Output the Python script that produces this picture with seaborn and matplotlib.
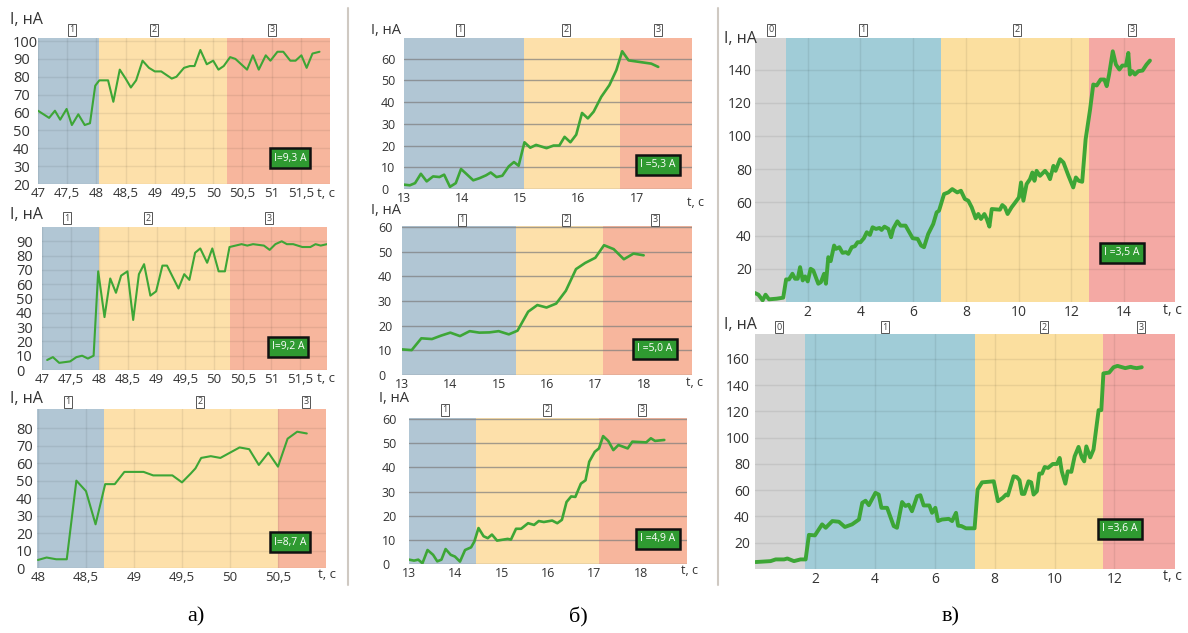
import numpy as np
import pandas as pd
import matplotlib
matplotlib.use("Agg")
import matplotlib.pyplot as plt
import seaborn as sns
from matplotlib.lines import Line2D

# ---- data (t in s, I in nA) ----
t_a1 = [47.0, 47.19, 47.29, 47.38, 47.49, 47.58, 47.69, 47.8, 47.89, 47.98, 48.05, 48.13, 48.2,
        48.29, 48.4, 48.5, 48.59, 48.68, 48.79, 48.9, 49.0, 49.11, 49.29, 49.37, 49.5, 49.6,
        49.68, 49.78, 49.89, 50.0, 50.09, 50.18, 50.29, 50.38, 50.58, 50.68, 50.78, 50.9,
        50.98, 51.1, 51.2, 51.32, 51.41, 51.51, 51.6, 51.7, 51.82]
i_a1 = [61, 57, 61, 56, 62, 53, 59, 53, 54, 75, 78, 78, 78, 66, 84, 79, 74, 78, 89, 85, 83, 83,
        79, 80, 85, 86, 86, 95, 87, 89, 84, 86, 91, 90, 84, 92, 84, 92, 89, 94, 94, 89, 89, 92,
        85, 93, 94]

t_a2 = [47.09, 47.19, 47.3, 47.49, 47.6, 47.7, 47.8, 47.9, 47.98, 48.09, 48.19, 48.29, 48.38,
        48.49, 48.59, 48.69, 48.78, 48.89, 48.99, 49.1, 49.18, 49.38, 49.48, 49.57, 49.67,
        49.76, 49.88, 49.97, 50.08, 50.19, 50.27, 50.48, 50.58, 50.68, 50.87, 50.97, 51.07,
        51.18, 51.27, 51.38, 51.54, 51.68, 51.77, 51.86, 51.97]
i_a2 = [7, 9, 5, 6, 9, 10, 8, 10, 69, 37, 64, 54, 66, 69, 35, 67, 74, 52, 55, 73, 73, 57, 67,
        63, 82, 85, 75, 85, 69, 69, 86, 88, 87, 88, 87, 84, 88, 90, 88, 88, 86, 86, 88, 87, 88]

t_a3 = [48.0, 48.09, 48.19, 48.3, 48.4, 48.5, 48.6, 48.7, 48.8, 48.9, 49.1, 49.2, 49.31, 49.4,
        49.5, 49.59, 49.64, 49.7, 49.8, 49.9, 50.0, 50.1, 50.2, 50.3, 50.4, 50.5, 50.6, 50.7,
        50.8]
i_a3 = [4.6, 6, 5, 5, 50, 44, 25, 48, 48, 55, 55, 53, 53, 53, 49, 54, 57, 63, 64, 63, 66, 69,
        68, 59, 66, 58, 74, 78, 77]

t_b1 = [13.0, 13.1, 13.19, 13.29, 13.39, 13.5, 13.61, 13.69, 13.79, 13.89, 13.98, 14.07, 14.19,
        14.3, 14.41, 14.49, 14.59, 14.69, 14.8, 14.89, 14.97, 15.07, 15.17, 15.27, 15.45,
        15.57, 15.67, 15.76, 15.86, 15.96, 16.06, 16.16, 16.26, 16.39, 16.53, 16.65, 16.75,
        16.86, 17.25, 17.37]
i_b1 = [2, 1.7, 2.7, 7, 3.5, 5.8, 5.5, 6.6, 1, 2.7, 9.2, 7, 4, 5, 6.3, 7.6, 5.5, 6.1, 10.4,
        12.4, 10.7, 21.5, 19, 20.3, 18.8, 20, 20, 24, 21.5, 25, 35, 32.5, 35.6, 42.4, 47.8,
        54.7, 63.4, 59.2, 57.7, 56.2]

t_b2 = [13.0, 13.2, 13.4, 13.62, 13.81, 14.0, 14.2, 14.4, 14.6, 14.81, 15.0, 15.21, 15.39,
        15.61, 15.8, 15.99, 16.19, 16.39, 16.6, 16.79, 17.0, 17.18, 17.38, 17.59, 17.79, 18.0]
i_b2 = [10.4, 10.1, 14.9, 14.6, 16, 17.2, 15.8, 17.8, 17.2, 17.3, 17.8, 16.5, 18, 25.7, 28.4,
        27.4, 29, 34.2, 43, 45.5, 47.6, 52.7, 51.1, 47, 49.3, 48.6]

t_b3 = [13.0, 13.11, 13.2, 13.29, 13.4, 13.52, 13.61, 13.7, 13.79, 13.9, 13.99, 14.1, 14.21,
        14.34, 14.41, 14.5, 14.61, 14.7, 14.79, 14.9, 15.13, 15.2, 15.31, 15.42, 15.57, 15.7,
        15.8, 15.91, 16.09, 16.2, 16.3, 16.4, 16.5, 16.59, 16.71, 16.81, 16.89, 17.01, 17.1,
        17.19, 17.3, 17.41, 17.52, 17.72, 17.82, 18.12, 18.22, 18.31, 18.51]
i_b3 = [1.8, 1.4, 1.8, 0.3, 5.8, 3.8, 1.1, 1.8, 6.2, 3.8, 3.1, 1, 5.8, 6.9, 9.3, 14.9, 11.5,
        10.7, 12.2, 9.7, 10.4, 10.1, 14.6, 14.6, 16.9, 16.2, 17.8, 17.4, 18, 16.9, 18.3, 25.7,
        28, 27.8, 33.3, 34.7, 42.4, 46.5, 47.9, 53, 51, 47.2, 49.3, 47.9, 50.7, 50.4, 52.1,
        51, 51.4]

t_v1 = [0.0, 0.13, 0.29, 0.4, 0.53, 0.82, 1.07, 1.18, 1.29, 1.42, 1.52, 1.62, 1.71, 1.81, 1.9,
        2.0, 2.11, 2.21, 2.4, 2.5, 2.62, 2.69, 2.78, 2.87, 3.0, 3.07, 3.2, 3.32, 3.45, 3.54,
        3.67, 3.79, 3.89, 4.0, 4.13, 4.24, 4.36, 4.46, 4.59, 4.72, 4.8, 4.91, 5.06, 5.16, 5.25,
        5.4, 5.52, 5.71, 5.98, 6.17, 6.3, 6.41, 6.57, 6.76, 6.89, 6.98, 7.17, 7.33, 7.48, 7.67,
        7.81, 7.96, 8.09, 8.22, 8.37, 8.47, 8.57, 8.7, 8.79, 8.89, 8.98, 9.29, 9.38, 9.48,
        9.58, 9.73, 9.92, 10.01, 10.09, 10.18, 10.3, 10.43, 10.52, 10.6, 10.68, 10.81, 11.0,
        11.1, 11.19, 11.32, 11.4, 11.57, 11.7, 11.89, 12.07, 12.17, 12.28, 12.41, 12.54, 12.71,
        12.83, 12.96, 13.11, 13.25, 13.34, 13.43, 13.57, 13.69, 13.82, 13.93, 14.07, 14.16,
        14.22, 14.31, 14.41, 14.54, 14.7, 14.85, 14.98]
i_v1 = [5.4, 4.4, 1, 4.4, 1.6, 2, 2.6, 13.6, 13.6, 17, 14, 14, 21, 13, 15.4, 12.4, 20, 19, 11,
        12, 17, 11, 27, 24.6, 34, 32, 33, 29.6, 30, 29, 33, 33.6, 36, 36, 38.4, 42, 40.4, 45,
        44, 44.6, 43.4, 45.4, 44, 39, 44.4, 48.6, 46, 46, 38.4, 38, 34, 33, 41, 47, 54, 55, 65,
        66, 68, 66, 67, 62, 61, 57, 50.4, 53, 50, 53, 50, 45.4, 56, 55.6, 58.4, 57, 53, 57, 61,
        63, 72, 61, 71, 74, 78, 73, 79, 76, 79, 77, 74, 82, 79, 86, 84, 76, 69, 75, 73, 72.4,
        98, 116, 131, 130.4, 134, 134, 130, 137, 151, 143, 140, 142.4, 142.4, 150, 137, 139,
        137, 139, 139.4, 143, 145.4]

t_v2 = [0.02, 0.52, 0.69, 0.97, 1.08, 1.3, 1.52, 1.69, 1.8, 2.0, 2.24, 2.36, 2.58, 2.8, 3.0,
        3.24, 3.47, 3.58, 3.69, 3.8, 4.02, 4.13, 4.22, 4.41, 4.63, 4.74, 4.91, 5.02, 5.13,
        5.24, 5.41, 5.52, 5.63, 5.82, 5.91, 6.02, 6.11, 6.24, 6.47, 6.58, 6.71, 6.78, 6.89,
        7.04, 7.33, 7.43, 7.58, 7.97, 8.11, 8.27, 8.38, 8.44, 8.63, 8.74, 8.83, 8.91, 8.99,
        9.13, 9.22, 9.3, 9.41, 9.49, 9.58, 9.67, 9.78, 9.94, 10.08, 10.17, 10.24, 10.36, 10.44,
        10.56, 10.67, 10.8, 10.91, 10.99, 11.06, 11.19, 11.3, 11.47, 11.56, 11.63, 11.82,
        11.97, 12.1, 12.36, 12.54, 12.63, 12.74, 12.91]
i_v2 = [5.3, 6, 7.3, 7.3, 8, 6, 7.3, 7.3, 26, 25.6, 34, 31.4, 36.5, 36, 32, 34, 37.7, 50.4, 52,
        48.6, 58, 56.7, 46.6, 46.6, 32.7, 31.4, 51, 48, 49, 44, 55.4, 56.2, 48.4, 48.4, 42.8,
        46.6, 36.5, 37.7, 38.2, 36.5, 42.8, 33, 32.7, 31, 31, 60.5, 66, 66.8, 51.6, 54.2, 56.7,
        56, 70.6, 70, 67.6, 57.2, 57.2, 66.8, 66, 56.7, 59.2, 72.7, 72.7, 77.7, 77, 80, 80,
        84.6, 74.4, 65, 74.4, 74, 85.8, 93, 85, 82, 93.4, 85, 91, 121, 121, 149, 149.6, 153.7,
        154.7, 153, 154, 153.4, 153, 153.7]

# stage boundaries (s) and legend currents
stages_a1 = [47.0, 48.05, 50.24, 52.0]
stages_a2 = [47.0, 48.0, 50.27, 51.97]
stages_a3 = [47.99, 48.69, 50.5, 51.0]
stages_b1 = [13.0, 15.07, 16.71, 17.95]
stages_b2 = [13.0, 15.36, 17.16, 19.0]
stages_b3 = [13.0, 14.45, 17.1, 19.0]
stages_v1 = [0.0, 1.16, 7.04, 12.68, 15.93]
stages_v2 = [0.0, 1.66, 7.33, 11.6, 14.02]
currents = ["I=9,3 A", "I=9,2 A", "I=8,7 A", "I =5,3 A", "I =5,0 A", "I =4,9 A",
            "I =3,5 A", "I =3,6 A"]

W, H = 1188, 633
sns.set_theme(style="white")
plt.rcParams['font.family'] = ['Open Sans', 'DejaVu Sans']
fig = plt.figure(figsize=(W / 100, H / 100), dpi=100)


def fx(x):
    return x / W


def fy(y):
    return 1 - y / H


def fmt(v):
    return ('%g' % v).replace('.', ',')


ab_cols = ['#b1c6d4', '#fde0aa', '#f7b69d']
v_cols = ['#d5d5d5', '#a0ccd7', '#fbdf9f', '#f4a9a4']


def panel(box, t, i, stages, cols, xlim, ylim, xticks, yticks, grid, lw, fs, xfs, ypad, yha,
          lab_y, lab_x, ylab, ylab_fs, xlab, legend_xy, legend_txt):
    l, r, top, bot = box
    ax = fig.add_axes([fx(l), fy(bot), fx(r - l), (bot - top) / H])
    for k in range(len(stages) - 1):
        ax.axvspan(stages[k], stages[k + 1], color=cols[k], lw=0, zorder=0)
    if grid == 'light':
        for y in yticks:
            ax.axhline(y, color='black', alpha=0.07, lw=1.0, zorder=1)
        for x in xticks:
            ax.axvline(x, color='black', alpha=0.07, lw=1.0, zorder=1)
    else:
        for y in yticks:
            ax.axhline(y, color='#7d7d7d', alpha=0.7, lw=1.0, zorder=1)
    df = pd.DataFrame({'t': t, 'i': i})
    sns.lineplot(data=df, x='t', y='i', ax=ax, color='#3da636', lw=lw,
                 estimator=None, sort=False, zorder=3)
    ax.set_xlim(*xlim)
    ax.set_ylim(*ylim)
    ax.set_xticks(xticks)
    ax.set_xticklabels([fmt(v) for v in xticks])
    ax.set_yticks(yticks)
    ax.set_yticklabels([fmt(v) for v in yticks])
    ax.tick_params(length=0, labelcolor='#333333')
    ax.tick_params(axis='x', pad=2, labelsize=xfs)
    ax.tick_params(axis='y', pad=ypad * 0.72, labelsize=fs)
    for lab in ax.get_yticklabels():
        lab.set_ha(yha)
    ax.set_xlabel('')
    ax.set_ylabel('')
    for s in ax.spines.values():
        s.set_visible(False)
    # stage numbers
    start = 0 if len(stages) == 5 else 1
    for k, x in enumerate(lab_x):
        fig.text(fx(x), fy(lab_y), str(start + k), fontsize=6.5, color='#444444',
                 ha='center', va='center',
                 bbox=dict(boxstyle='square,pad=0.2', fc='white', ec='#555555', lw=0.7))
    fig.text(fx(ylab[0]), fy(ylab[1]), 'I, нА', fontsize=ylab_fs, color='#333333',
             ha='left', va='center')
    fig.text(fx(xlab[0]), fy(xlab[1]), 't, c', fontsize=xfs, color='#333333',
             ha='right', va='center')
    fig.text(fx(legend_xy[0]), fy(legend_xy[1]), legend_txt, fontsize=7.5, color='white',
             ha='center', va='center',
             bbox=dict(boxstyle='square,pad=0.4', fc='#2f9a31', ec='#111111', lw=1.8))
    return ax


xt_a = [47, 47.5, 48, 48.5, 49, 49.5, 50, 50.5, 51, 51.5]
panel((38, 330, 38, 184), t_a1, i_a1, stages_a1, ab_cols, (47, 52.0), (20, 101.7),
      xt_a, list(range(20, 101, 10)), 'light', 1.5, 10.5, 9.5, 25, 'left',
      30, [72, 154, 272], (10, 20), 11.5, (335, 193), (290, 158), currents[0])
panel((42, 327, 227, 370), t_a2, i_a2, stages_a2, ab_cols, (47, 51.97), (0, 100),
      xt_a, list(range(0, 91, 10)), 'light', 1.5, 10.5, 9.5, 26, 'left',
      218, [67, 148, 269], (10, 215), 11.5, (335, 378), (288, 347), currents[1])
panel((37, 326, 409, 568), t_a3, i_a3, stages_a3, ab_cols, (47.99, 51.0), (0, 91),
      [48, 48.5, 49, 49.5, 50, 50.5], list(range(0, 81, 10)), 'light', 1.5, 10.5, 9.5, 21,
      'left', 402, [68, 200, 306], (10, 399), 11.5, (336, 575), (290, 542), currents[2])

panel((404, 692, 38, 189), t_b1, i_b1, stages_b1, ab_cols, (13, 17.95), (0, 69.5),
      [13, 14, 15, 16, 17], list(range(0, 61, 10)), 'dark', 1.9, 9, 9, 23, 'left',
      30, [460, 566, 658], (371, 31), 10.5, (704, 202), (658, 165), currents[3])
panel((402, 692, 226, 375), t_b2, i_b2, stages_b2, ab_cols, (13, 19), (0, 60.5),
      [13, 14, 15, 16, 17, 18], list(range(0, 61, 10)), 'dark', 1.9, 9, 9, 24, 'left',
      220, [462, 566, 655], (371, 211), 10.5, (703, 383), (655, 349), currents[4])
panel((409, 687, 418, 564), t_b3, i_b3, stages_b3, ab_cols, (13, 19), (0, 60.5),
      [13, 14, 15, 16, 17, 18], list(range(0, 61, 10)), 'dark', 1.9, 9, 9, 27, 'left',
      410, [445, 547, 642], (379, 399), 10.5, (698, 570), (658, 539), currents[5])

panel((755, 1175, 38, 302), t_v1, i_v1, stages_v1, v_cols, (0, 15.93), (0, 159),
      [2, 4, 6, 8, 10, 12, 14], list(range(20, 141, 20)), 'light', 2.8, 10, 10, 3, 'right',
      30, [771, 863, 1017, 1132], (724, 39), 11.5, (1182, 310), (1122, 253), currents[6])
panel((755, 1175, 334, 569), t_v2, i_v2, stages_v2, v_cols, (0, 14.02), (0, 179),
      [2, 4, 6, 8, 10, 12], list(range(20, 161, 20)), 'light', 2.8, 10, 10, 5, 'right',
      327, [779, 885, 1044, 1141], (724, 325), 11.5, (1182, 577), (1120, 529), currents[7])

# separators between groups
for x in (348, 718):
    fig.add_artist(Line2D([fx(x), fx(x)], [fy(8), fy(585)], color='#cfc9c2', lw=1.5))

for x, s in ((196, 'а)'), (578, 'б)'), (951, 'в)')):
    fig.text(fx(x), fy(617), s, fontsize=16, family=['Liberation Serif', 'DejaVu Serif'],
             ha='center', va='center', color='black')

fig.savefig('out.png', dpi=100, facecolor='white')
